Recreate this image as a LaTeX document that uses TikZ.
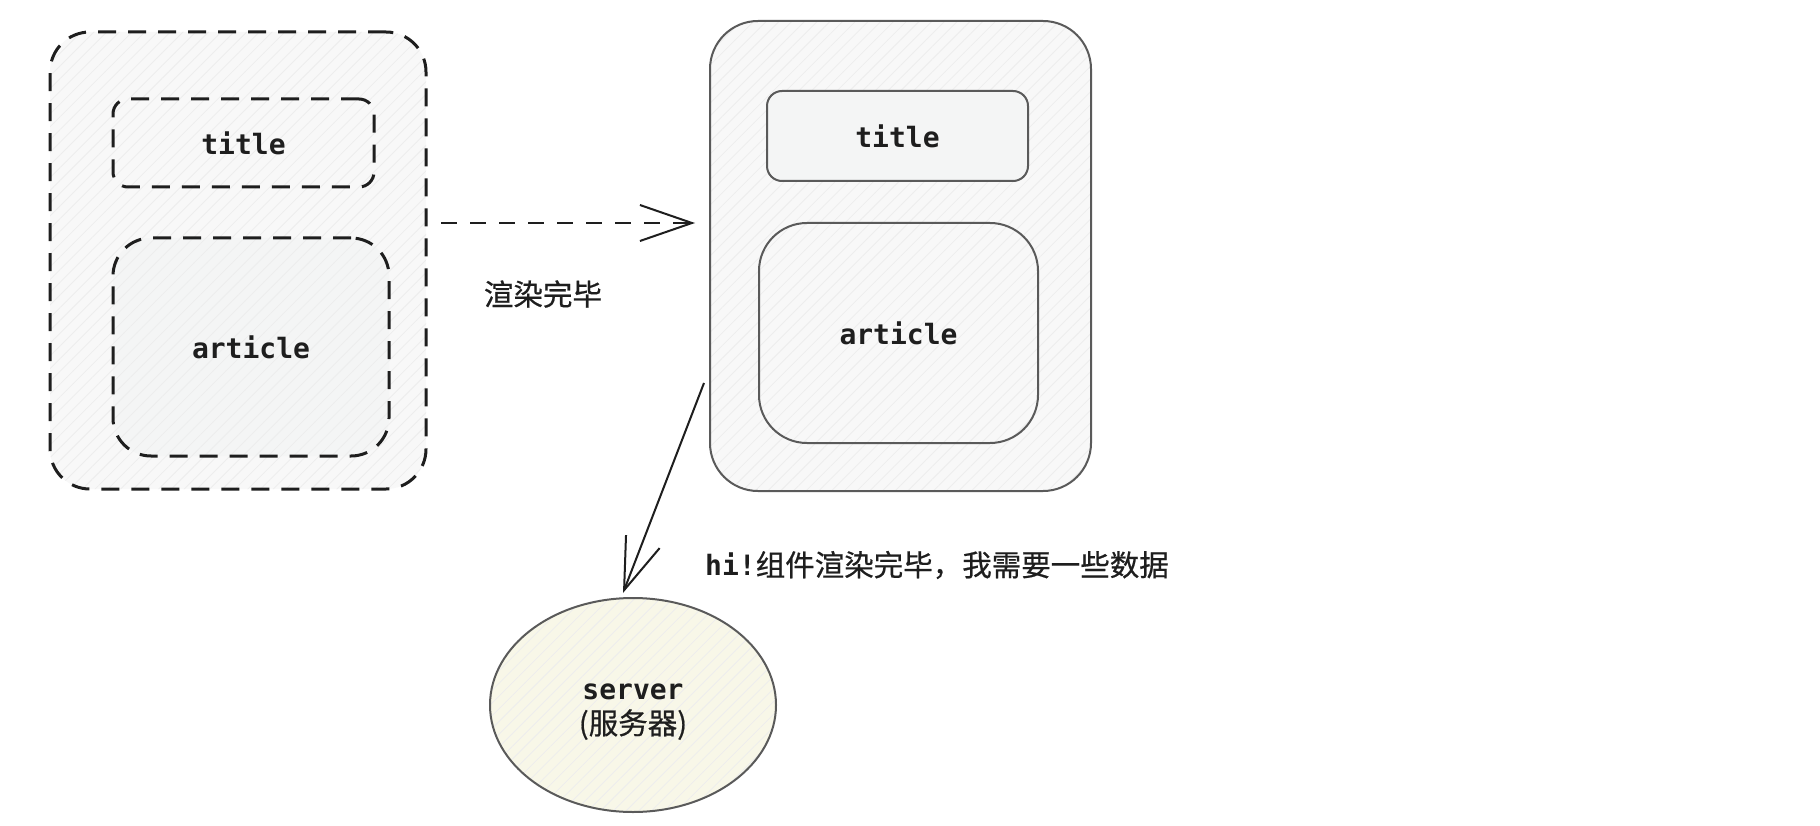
\documentclass[tikz,border=0pt]{standalone}
\usepackage{fontspec}
\setmonofont{DejaVu Sans Mono}
\newfontfamily\cjk[FakeBold=0.6]{Noto Sans CJK SC}
\usetikzlibrary{arrows.meta,patterns.meta,shapes.geometric}
\definecolor{ink}{HTML}{1E1E1E}
\definecolor{edge}{HTML}{5A5A5A}
\definecolor{boxfill}{HTML}{F8F8F8}
\definecolor{innerfill}{HTML}{F4F5F5}
\definecolor{srvfill}{HTML}{F8F7E8}
\tikzset{
  txt/.style={font=\ttfamily\bfseries\fontsize{28}{34}\selectfont, text=ink},
  hatch/.style={pattern={Lines[angle=45,distance=9pt,line width=0.8pt]}, pattern color=black!7},
  dashbox/.style={draw=ink, line width=3pt, dash pattern=on 18pt off 12pt, rounded corners=#1,
    preaction={fill=boxfill}, hatch, rectangle, inner sep=0pt, txt},
  solidbox/.style={draw=edge, line width=2pt, rounded corners=#1,
    preaction={fill=boxfill}, hatch, rectangle, inner sep=0pt, txt},
  tip/.style={-{Straight Barb[length=52pt,width=36pt,line width=2pt]}},
  lbl/.style={text=ink, font=\cjk\fontsize{29.5}{34}\selectfont, inner sep=0pt}
}
\begin{document}
\begin{tikzpicture}[x=1pt,y=-1pt]
\useasboundingbox[fill=white] (0,0) rectangle (1820,826);

% left (dashed) component
\node[dashbox=40pt, minimum width=376pt, minimum height=457pt] (lo) at (238,260.5) {};
\node[dashbox=15pt, minimum width=261pt, minimum height=88pt] (lt) at (243.5,143) {title};
\node[dashbox=38pt, minimum width=276pt, minimum height=218pt, preaction={fill=innerfill}] (la) at (251,347) {article};

% right (solid) component
\node[solidbox=48pt, minimum width=381pt, minimum height=470pt] (ro) at (900.5,256) {};
\node[draw=edge, line width=2pt, rounded corners=15pt, fill=innerfill, rectangle, inner sep=0pt, txt,
      minimum width=261pt, minimum height=90pt] (rt) at (897.5,136) {title};
\node[solidbox=48pt, minimum width=279pt, minimum height=220pt] (ra) at (898.5,333) {article};

% server
\node[ellipse, draw=edge, line width=2pt, preaction={fill=srvfill}, hatch, inner sep=0pt,
      minimum width=286pt, minimum height=214pt, align=center, txt] (srv) at (633,705)
  {\rule{0pt}{29pt}server\\[1pt]{\cjk\mdseries\fontsize{29.5}{34}\selectfont (服务器)}};

% connectors
\draw[ink, line width=2.5pt, dash pattern=on 16pt off 13pt, tip]
  ([xshift=15pt,yshift=37.5pt]lo.east) -- ([xshift=-14pt,yshift=33pt]ro.west);
\draw[ink, line width=2pt, tip]
  ([xshift=-5pt,yshift=-127pt]ro.west) -- ([xshift=-10pt,yshift=4pt]srv.north);

% labels
\node[lbl] (l1) at (543,294) {渲染完毕};
\node[lbl, anchor=west] (l2) at (705,565) {{\ttfamily\bfseries\fontsize{28}{34}\selectfont hi!}组件渲染完毕，我需要一些数据};
\end{tikzpicture}
\end{document}
